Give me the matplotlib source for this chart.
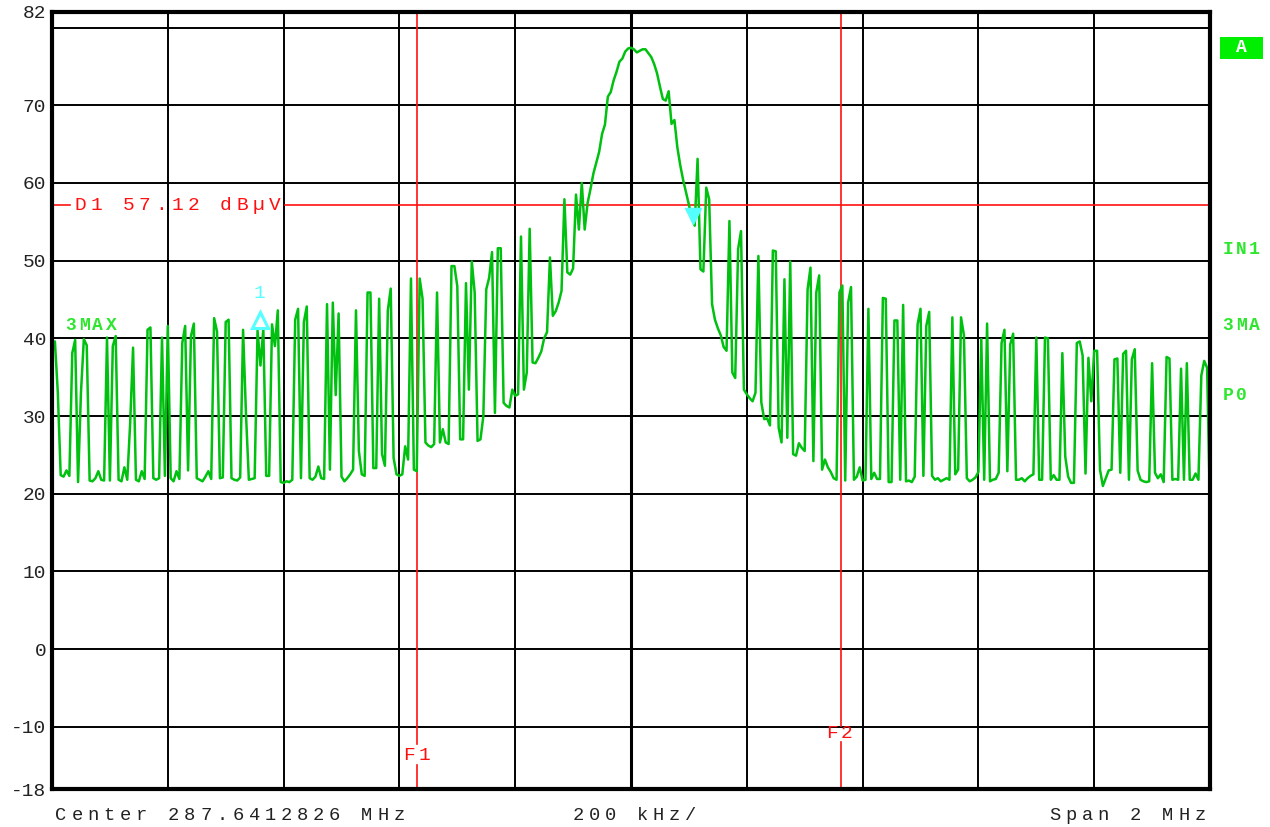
import matplotlib
matplotlib.use("Agg")
import matplotlib.pyplot as plt
from matplotlib.patches import Rectangle
import numpy as np

plt.rcParams['font.family'] = ['Liberation Mono', 'DejaVu Sans Mono']

# ---------------- data ----------------
center_label = "Center 287.6412826 MHz"
div_label = "200 kHz/"
span_label = "Span 2 MHz"
span_khz = 2000.0

ytick_vals = [82, 70, 60, 50, 40, 30, 20, 10, 0, -10, -18]
ytick_labels = ["82", "70", "60", "50", "40", "30", "20", "10", "0", "-10", "-18"]
grid_y = [80, 70, 60, 50, 40, 30, 20, 10, 0, -10]
grid_x = [-800, -600, -400, -200, 0, 200, 400, 600, 800]

# trace (dBuV), 401 sweep points across the 2 MHz span
trace_db = [
    38.0, 39.6, 33.1, 22.4, 22.2, 23.0, 22.3, 38.1, 39.8, 21.5, 33.0, 39.9, 39.1, 21.7, 21.6, 22.0, 22.9, 21.8, 21.7, 40.1,
    21.7, 39.0, 40.3, 21.8, 21.6, 23.4, 21.8, 29.1, 38.8, 21.8, 21.6, 22.9, 21.9, 41.1, 41.4, 22.0, 21.8, 22.0, 40.1, 22.3,
    41.6, 22.0, 21.6, 22.9, 21.9, 39.4, 41.6, 23.0, 40.3, 41.9, 22.0, 21.8, 21.6, 22.2, 22.9, 21.9, 42.6, 40.9, 22.0, 22.1,
    42.1, 42.4, 22.0, 21.8, 21.7, 22.1, 41.1, 30.3, 21.8, 21.9, 22.0, 41.0, 36.5, 41.2, 22.3, 22.3, 41.8, 39.0, 43.6, 21.5,
    21.4, 21.6, 21.5, 21.8, 42.4, 43.8, 22.0, 42.1, 44.1, 22.0, 21.8, 22.2, 23.5, 22.0, 21.9, 44.4, 23.1, 44.6, 32.7, 43.2,
    22.2, 21.6, 22.0, 22.5, 23.1, 43.6, 25.5, 22.5, 22.3, 45.9, 45.9, 23.3, 23.3, 45.1, 25.1, 23.6, 43.6, 46.4, 24.6, 22.5,
    22.3, 22.5, 26.1, 24.4, 47.7, 23.1, 22.9, 47.7, 45.1, 26.6, 26.2, 26.0, 26.4, 45.9, 26.6, 28.3, 26.6, 26.4, 49.3, 49.3,
    46.7, 27.0, 27.0, 47.1, 33.4, 49.9, 45.9, 26.8, 27.0, 30.0, 46.3, 47.8, 51.1, 30.4, 51.6, 51.6, 31.7, 31.3, 31.1, 33.4,
    32.6, 32.8, 53.1, 33.4, 35.6, 54.1, 36.9, 36.8, 37.5, 38.3, 40.0, 40.8, 50.4, 42.9, 43.5, 44.6, 46.1, 57.9, 48.5, 48.2,
    49.0, 58.5, 54.0, 60.0, 54.0, 57.4, 59.2, 61.2, 62.6, 64.0, 66.3, 67.5, 71.1, 71.7, 73.2, 74.3, 75.6, 76.0, 76.9, 77.3,
    77.4, 77.2, 76.8, 77.0, 77.2, 77.2, 76.7, 76.2, 75.3, 74.1, 72.4, 70.8, 70.6, 71.8, 67.6, 68.1, 64.6, 62.3, 60.4, 58.8,
    57.2, 55.4, 54.5, 63.1, 48.9, 48.6, 59.4, 57.9, 44.4, 42.4, 41.3, 40.4, 38.9, 38.4, 55.1, 35.6, 34.9, 51.5, 53.8, 33.4,
    32.8, 32.3, 31.9, 33.0, 50.6, 31.8, 29.6, 29.7, 28.8, 51.3, 51.2, 28.5, 26.6, 47.6, 27.2, 49.9, 25.1, 24.9, 26.5, 25.9,
    25.5, 46.3, 49.1, 24.2, 45.9, 48.1, 23.1, 24.4, 23.4, 22.8, 22.0, 21.8, 45.9, 46.8, 21.7, 44.6, 46.6, 21.8, 22.2, 23.4,
    21.7, 21.8, 43.8, 21.9, 22.7, 21.9, 21.9, 45.2, 45.1, 21.5, 21.5, 42.3, 42.3, 21.8, 44.3, 21.6, 21.7, 21.5, 22.2, 41.8,
    43.8, 22.3, 41.6, 43.4, 22.3, 21.8, 22.0, 21.6, 21.8, 22.0, 21.8, 42.7, 22.5, 23.1, 42.7, 40.4, 22.0, 21.6, 21.8, 22.1,
    22.8, 39.9, 21.8, 41.9, 21.6, 21.8, 21.9, 22.7, 39.4, 41.1, 22.9, 39.2, 40.6, 21.8, 21.8, 22.0, 21.6, 22.0, 22.3, 22.5,
    40.1, 21.8, 21.8, 40.1, 40.0, 21.8, 22.4, 21.8, 21.8, 38.1, 24.8, 22.2, 21.4, 21.4, 39.4, 39.6, 37.8, 22.6, 37.5, 31.9,
    38.4, 38.4, 23.1, 21.0, 22.0, 23.0, 23.1, 37.3, 37.4, 22.7, 38.0, 38.4, 21.8, 37.3, 38.6, 23.0, 21.8, 21.6, 21.5, 21.6,
    36.8, 22.7, 22.0, 22.5, 21.5, 37.6, 37.4, 21.8, 21.9, 21.8, 36.1, 21.8, 36.8, 21.8, 21.8, 22.6, 21.8, 35.2, 37.1, 36.2,
    18.0,
]

d1_level = 57.12
d1_label = "D1 57.12 dB\u00b5V"
f1_khz, f1_label = -369, "F1"
f2_khz, f2_label = 362, "F2"
marker1_khz, marker1_db, marker1_label = -641, 42.3, "1"
marker2_khz, marker2_db = 107, 55.8
trace_label = "3MAX"
side_labels = ["IN1", "3MA", "P0"]
box_label = "A"

# ---------------- colours ----------------
TRACE = '#00C010'
LABEL_GREEN = '#2EE62E'
RED = '#FF1010'
CYAN = '#55FFFF'

W, H = 1270, 827
fig = plt.figure(figsize=(W / 100, H / 100), dpi=100)
fig.patch.set_facecolor('white')

L, R, T, B = 52, 1210, 12, 789
ax = fig.add_axes([L / W, 1 - B / H, (R - L) / W, (B - T) / H])


def fpos(x, y):
    return x / W, 1 - y / H


def spaced(x0, y, s, pitch, **kw):
    """draw string s with a fixed (wide) character pitch, first char centred at x0"""
    for k, ch in enumerate(s):
        if ch != ' ':
            fx, fy = fpos(x0 + k * pitch, y)
            fig.text(fx, fy, ch, ha='center', va='center', **kw)


freq_khz = np.linspace(-span_khz / 2, span_khz / 2, len(trace_db))

ax.set_xlim(-span_khz / 2, span_khz / 2)
ax.set_ylim(-18, 82)

for gy in grid_y:
    ax.axhline(gy, color='black', lw=1.4, zorder=1)
for gx in grid_x:
    ax.axvline(gx, color='black', lw=2.2 if gx == 0 else 1.4, zorder=1)

ax.plot(freq_khz, trace_db, color=TRACE, lw=1.8, zorder=5)

# D1 display line with gap for its label
gap_lo, gap_hi = 18 / (R - L), 233 / (R - L)
ax.axhline(d1_level, xmin=0, xmax=gap_lo, color=RED, lw=1.2, zorder=4)
ax.axhline(d1_level, xmin=gap_hi, xmax=1, color=RED, lw=1.2, zorder=4)
spaced(80, 206, d1_label, 16.2, color=RED, fontsize=14)

# frequency lines F1 / F2
ax.axvline(f1_khz, ymin=0, ymax=(B - 765) / (B - T), color=RED, lw=1.2, zorder=4)
ax.axvline(f1_khz, ymin=(B - 744) / (B - T), ymax=1, color=RED, lw=1.2, zorder=4)
ax.axvline(f2_khz, ymin=0, ymax=(B - 742) / (B - T), color=RED, lw=1.2, zorder=4)
ax.axvline(f2_khz, ymin=(B - 726) / (B - T), ymax=1, color=RED, lw=1.2, zorder=4)
spaced(409, 755, f1_label, 15, color=RED, fontsize=14)
spaced(832, 733, f2_label, 15, color=RED, fontsize=14)

# markers
ax.plot([marker1_khz], [marker1_db], marker='^', ms=11, mfc='none', mec=CYAN, mew=2.2, zorder=6, ls='none')
ax.text(marker1_khz, marker1_db + 3.5, marker1_label, color=CYAN, fontsize=14, ha='center', va='center', zorder=6)
ax.plot([marker2_khz], [marker2_db], marker='v', ms=12, color=CYAN, zorder=6, ls='none')

# trace label
spaced(71, 325, trace_label, 13.3, color=LABEL_GREEN, fontsize=13, fontweight='bold')

# right side labels
for lab, yy in zip(side_labels, [249, 325, 396]):
    spaced(1228, yy, lab, 13.3, color=LABEL_GREEN, fontsize=13, fontweight='bold')
fig.patches.append(Rectangle(fpos(1220, 59), 43 / W, 22 / H, transform=fig.transFigure,
                             facecolor='#00EE00', edgecolor='none'))
fx, fy = fpos(1241.5, 48)
fig.text(fx, fy, box_label, color='white', fontsize=13, fontweight='bold', ha='center', va='center')

# bottom labels
spaced(61, 815, center_label, 16.1, color='#222222', fontsize=13.5)
spaced(578, 815, div_label, 16.1, color='#222222', fontsize=13.5)
spaced(1055, 815, span_label, 16.1, color='#222222', fontsize=13.5)

# axes frame and ticks
ax.set_xticks([])
ax.set_yticks(ytick_vals)
ax.set_yticklabels(ytick_labels)
ax.tick_params(axis='y', length=0, pad=4, labelsize=14, labelcolor='#222222')
for sp in ax.spines.values():
    sp.set_linewidth(3.0)
    sp.set_color('black')
    sp.set_zorder(8)

fig.savefig('out.png', dpi=100, facecolor='white')
